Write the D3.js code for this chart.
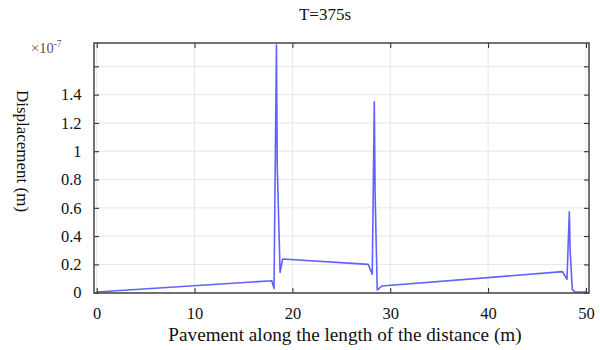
<!DOCTYPE html>
<html><head><meta charset="utf-8">
<script src="https://cdn.jsdelivr.net/npm/d3@7"></script>
<style>body{margin:0;background:#fff;} svg{display:block;} svg text{font-family:"Liberation Serif","Times New Roman",serif !important;}</style>
</head><body>
<svg id="c" width="600" height="350"></svg>
<script>
const titleText = "T=375s";
const xLabel = "Pavement along the length of the distance (m)";
const yLabel = "Displacement (m)";
const xTicks = [0, 10, 20, 30, 40, 50];
const yTicks = [0, 0.2, 0.4, 0.6, 0.8, 1, 1.2, 1.4, 1.6];
const yTickLabels = ["0", "0.2", "0.4", "0.6", "0.8", "1", "1.2", "1.4", ""];
// distance (m)
const xs = [0, 17.9, 18.12, 18.37, 18.45, 18.74, 19.0, 27.75, 28.16, 28.37, 28.45, 28.67, 29.12, 47.6, 48.06, 48.3, 48.38, 48.6, 48.85, 50];
// displacement (×1e-7 m)
const ys = [0.005, 0.085, 0.03, 1.75, 0.9, 0.144, 0.238, 0.2, 0.13, 1.35, 0.7, 0.019, 0.047, 0.149, 0.095, 0.572, 0.3, 0.024, 0.006, 0.004];

const svg = d3.select("#c");
const L = 94, R = 589, T = 43, B = 293;
const x = d3.scaleLinear().domain([-0.276, 50.31]).range([L, R]);
const y = d3.scaleLinear().domain([-0.002, 1.765]).range([B, T]);

// grid
svg.append("g").selectAll("line").data(xTicks).join("line")
  .attr("x1", d => x(d)).attr("x2", d => x(d)).attr("y1", T).attr("y2", B)
  .attr("stroke", "#e6e6e6").attr("stroke-width", 1);
svg.append("g").selectAll("line").data(yTicks).join("line")
  .attr("x1", L).attr("x2", R).attr("y1", d => y(d)).attr("y2", d => y(d))
  .attr("stroke", "#e6e6e6").attr("stroke-width", 1);

// data line
const pts = xs.map((v, i) => [v, ys[i]]);
svg.append("path").datum(pts)
  .attr("fill", "none").attr("stroke", "#6161ff").attr("stroke-width", 1.6)
  .attr("stroke-linejoin", "round")
  .attr("d", d3.line().x(d => x(d[0])).y(d => y(d[1])));

// axes (ticks inward)
const tk = 5;
svg.append("g").attr("transform", `translate(0,${B})`)
  .call(d3.axisBottom(x).tickValues(xTicks).tickSize(-tk).tickFormat(d3.format("d")).tickPadding(14))
  .call(g => g.select(".domain").remove());
svg.append("g").attr("transform", `translate(0,${T})`)
  .call(d3.axisTop(x).tickValues(xTicks).tickSize(-tk).tickFormat(""))
  .call(g => g.select(".domain").remove());
svg.append("g").attr("transform", `translate(${L},0)`)
  .call(d3.axisLeft(y).tickValues(yTicks).tickSize(-tk).tickFormat((d, i) => yTickLabels[i]).tickPadding(12.5))
  .call(g => g.select(".domain").remove());
svg.append("g").attr("transform", `translate(${R},0)`)
  .call(d3.axisRight(y).tickValues(yTicks).tickSize(-tk).tickFormat(""))
  .call(g => g.select(".domain").remove());
svg.selectAll(".tick line").attr("stroke", "#222").attr("stroke-width", 1);
svg.selectAll(".tick text").attr("font-size", 16.5).attr("fill", "#111");

// frame
svg.append("rect").attr("x", L).attr("y", T).attr("width", R - L).attr("height", B - T)
  .attr("fill", "none").attr("stroke", "#444").attr("stroke-width", 1.5);

// exponent
const ex = svg.append("text").attr("x", 31).attr("y", 53)
  .attr("font-size", 14.5).attr("fill", "#555");
ex.append("tspan").text("×10");
ex.append("tspan").attr("dy", -6).attr("font-size", 9.5).text("-7");

// title
svg.append("text").attr("x", 325).attr("y", 20).attr("text-anchor", "middle")
  .attr("font-size", 17).attr("fill", "#111").text(titleText);
// x label
svg.append("text").attr("x", 345).attr("y", 341).attr("text-anchor", "middle")
  .attr("font-size", 19.2).attr("fill", "#111").text(xLabel);
// y label
svg.append("text").attr("transform", "translate(17,151) rotate(90)").attr("text-anchor", "middle")
  .attr("font-size", 17).attr("fill", "#111").text(yLabel);
</script>
</body></html>
